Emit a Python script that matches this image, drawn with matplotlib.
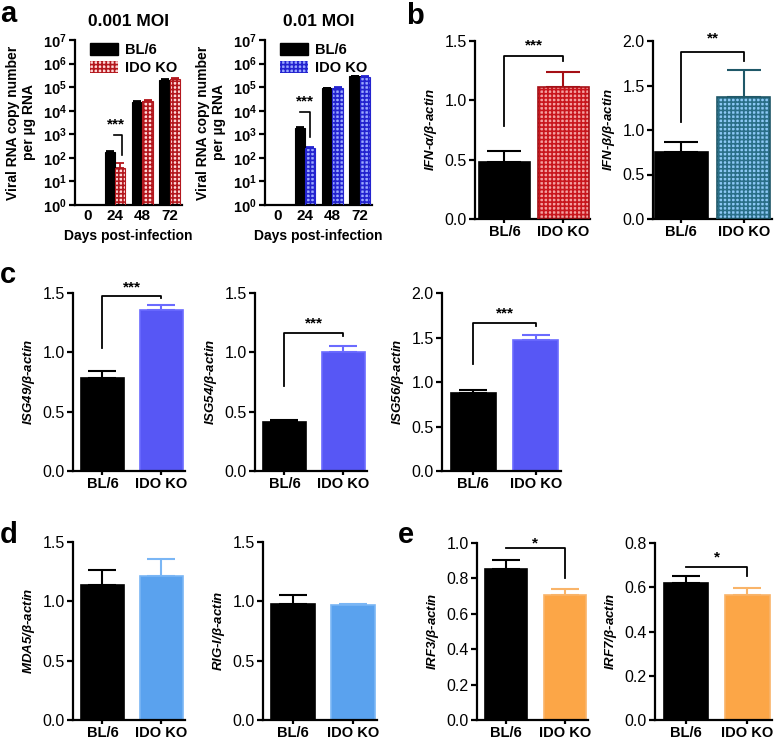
import numpy as np
import matplotlib
matplotlib.use("Agg")
import matplotlib.pyplot as plt
import matplotlib.patches as mpatches
from matplotlib.ticker import FixedLocator

plt.rcParams['font.family'] = ['Liberation Sans', 'DejaVu Sans']
plt.rcParams['hatch.linewidth'] = 1.2
plt.rcParams['mathtext.fontset'] = 'custom'
plt.rcParams['mathtext.rm'] = 'Liberation Sans'
plt.rcParams['mathtext.bf'] = 'Liberation Sans:bold'
plt.rcParams['mathtext.it'] = 'Liberation Sans:italic:bold'

# ── data ──────────────────────────────────────────────────────────────────────
days = ["0", "24", "48", "72"]
groups = ["BL/6", "IDO KO"]

# panel a (viral RNA copies, log scale); day 0 = not detected
a1_bl6 = [np.nan, 180, 2.4e4, 2.0e5]
a1_bl6_err = [0, 15, 2e3, 1.5e4]
a1_ko = [np.nan, 36, 2.7e4, 2.3e5]
a1_ko_err = [0, 22, 2e3, 2.5e4]
a2_bl6 = [np.nan, 1.8e3, 9.0e4, 2.9e5]
a2_bl6_err = [0, 1.5e2, 5e3, 1e4]
a2_ko = [np.nan, 270, 9.2e4, 2.8e5]
a2_ko_err = [0, 25, 5e3, 2e4]

# panels b-e: (mean, upper error) for BL/6 and IDO KO
ifna = [0.48, 1.115]
ifna_err = [0.09, 0.125]
ifnb = [0.75, 1.37]
ifnb_err = [0.12, 0.30]
isg49 = [0.78, 1.355]
isg49_err = [0.06, 0.04]
isg54 = [0.41, 1.0]
isg54_err = [0.02, 0.055]
isg56 = [0.875, 1.475]
isg56_err = [0.04, 0.05]
mda5 = [1.14, 1.215]
mda5_err = [0.12, 0.145]
rigi = [0.975, 0.965]
rigi_err = [0.075, 0.015]
irf3 = [0.855, 0.705]
irf3_err = [0.048, 0.035]
irf7 = [0.62, 0.567]
irf7_err = [0.033, 0.03]

LW = 1.6


def style_axes(ax):
    for s in ("top", "right"):
        ax.spines[s].set_visible(False)
    for s in ("left", "bottom"):
        ax.spines[s].set_linewidth(LW)
    ax.tick_params(axis="both", direction="out", width=LW, length=4, labelsize=11.5, pad=2)
    ax.tick_params(axis="x", length=3, pad=1)


def fig_ax(l, t, r, b):
    W, H = 778, 740
    return fig.add_axes([l / W, 1 - b / H, (r - l) / W, (b - t) / H])


def bar_panel(ax, vals, errs, ylabel, ymax, step, ko_face, ko_edge, ko_hatch=None,
              hatch_col=None, width=0.72, xlim=(-0.5, 1.4)):
    x = np.arange(2)
    ax.bar(x[0], vals[0], width, color="black", edgecolor="black", lw=1.2, zorder=2)
    if ko_hatch:
        ax.bar(x[1], vals[1], width, color=ko_face, edgecolor=hatch_col, lw=0,
               hatch=ko_hatch, zorder=2)
        ax.bar(x[1], vals[1], width, color="none", edgecolor=ko_edge, lw=1.2, zorder=3)
    else:
        ax.bar(x[1], vals[1], width, color=ko_face, edgecolor=ko_edge, lw=1.2, zorder=2)
    ecols = ["black", ko_edge]
    for i in range(2):
        ax.errorbar(x[i], vals[i], yerr=[[0], [errs[i]]], fmt="none", ecolor=ecols[i],
                    elinewidth=1.5, capsize=width * 14, capthick=1.5, zorder=1)
    ax.set_xlim(*xlim)
    ax.set_ylim(0, ymax)
    ax.set_yticks(np.arange(0, ymax + step / 2, step))
    ax.yaxis.set_major_formatter(matplotlib.ticker.FormatStrFormatter("%.1f"))
    ax.set_xticks(x)
    ax.set_xticklabels(groups, fontweight="bold", fontsize=10.5)
    ax.set_ylabel(ylabel, fontsize=9.5, fontweight="bold", style="italic", labelpad=4)
    style_axes(ax)
    ax.tick_params(axis="x", labelsize=10.5)


def bracket(ax, x0, y0, x1, y1, ytop, label, ylab):
    ax.plot([x0, x0, x1, x1], [y0, ytop, ytop, y1], color="black", lw=1.3, zorder=4)
    ax.text((x0 + x1) / 2, ylab, label, ha="center", va="center", fontsize=11,
            fontweight="bold")


def log_panel(ax, bl6, bl6_err, ko, ko_err, face, hatch_col, title):
    x = np.arange(len(days))
    w = 0.38
    ax.set_yscale("log")
    ax.bar(x - w / 2, bl6, w, bottom=0, color="black", edgecolor="black", lw=0.8, zorder=2)
    ax.bar(x + w / 2, ko, w, bottom=0, color=face, edgecolor=hatch_col, lw=0,
           hatch="++++", zorder=2)
    ax.bar(x + w / 2, ko, w, bottom=0, color="none", edgecolor=hatch_col, lw=0.8, zorder=3)
    ax.errorbar(x - w / 2, bl6, yerr=[np.zeros(4), bl6_err], fmt="none", ecolor="black",
                elinewidth=1.3, capsize=3, capthick=1.3, zorder=1)
    ax.errorbar(x + w / 2, ko, yerr=[np.zeros(4), ko_err], fmt="none", ecolor=hatch_col,
                elinewidth=1.3, capsize=3, capthick=1.3, zorder=1)
    ax.set_xlim(-0.47, 3.45)
    ax.set_ylim(1, 1e7)
    ax.yaxis.set_major_locator(FixedLocator([10.0 ** k for k in range(8)]))
    ax.yaxis.set_minor_locator(FixedLocator([]))
    ax.set_yticklabels([r"$\mathbf{10^{%d}}$" % k for k in range(8)])
    ax.set_xticks(x)
    ax.set_xticklabels(days, fontweight="bold")
    ax.set_xlabel("Days post-infection", fontsize=10, fontweight="bold", labelpad=4)
    ax.set_ylabel("Viral RNA copy number\nper µg RNA", fontsize=10, fontweight="bold",
                  linespacing=1.15, labelpad=5)
    ax.set_title(title, fontsize=12.5, fontweight="bold", pad=10)
    style_axes(ax)
    ax.tick_params(axis="x", length=0, labelsize=11, pad=3)
    ax.tick_params(axis="y", labelsize=10.5)
    handles = [mpatches.Patch(facecolor="black", edgecolor="black", label="BL/6"),
               mpatches.Patch(facecolor=face, edgecolor=hatch_col, hatch="++++",
                              lw=0, label="IDO KO")]
    ax.legend(handles=handles, loc="upper left", bbox_to_anchor=(0.02, 1.06),
              frameon=False, handlelength=1.9, handleheight=0.9, handletextpad=0.5,
              labelspacing=0.25, prop={"weight": "bold", "size": 10.5})
    return ax


fig = plt.figure(figsize=(7.78, 7.4), dpi=100)

# ── panel a ───────────────────────────────────────────────────────────────────
ax = fig_ax(75, 40, 182, 205)
log_panel(ax, a1_bl6, a1_bl6_err, a1_ko, a1_ko_err, "#ffd8d8", "#b3171d", "0.001 MOI")
ax.plot([1 - 0.05, 1 + 0.24, 1 + 0.24], [930, 930, 130], color="black", lw=1.2)
ax.text(1.02, 2.6e3, "***", ha="center", va="center", fontsize=11, fontweight="bold")

ax = fig_ax(265, 40, 372, 205)
log_panel(ax, a2_bl6, a2_bl6_err, a2_ko, a2_ko_err, "#9aa8ff", "#2323cf", "0.01 MOI")
ax.plot([1 - 0.19, 1 + 0.19, 1 + 0.19], [9000, 9000, 800], color="black", lw=1.2)
ax.text(1.0, 2.5e4, "***", ha="center", va="center", fontsize=11, fontweight="bold")

# ── panel b ───────────────────────────────────────────────────────────────────
ax = fig_ax(475, 41, 590, 219)
bar_panel(ax, ifna, ifna_err, r"IFN-$\alpha$/$\beta$-actin", 1.5, 0.5,
          "#f4a0a0", "#a50f15", "++++", "#c8161d", width=0.85, xlim=(-0.5, 1.45))
bracket(ax, 0, 0.78, 1, 1.33, 1.375, "***", 1.46)

ax = fig_ax(653, 41, 772, 219)
bar_panel(ax, ifnb, ifnb_err, r"IFN-$\beta$/$\beta$-actin", 2.0, 0.5,
          "#8cc8f5", "#1f5868", "++++", "#2a6f88", width=0.85, xlim=(-0.45, 1.45))
bracket(ax, 0, 1.09, 1, 1.77, 1.88, "**", 2.03)

# ── panel c ───────────────────────────────────────────────────────────────────
ISG_FACE, ISG_EDGE = "#5757f5", "#6b6bff"
ax = fig_ax(73, 293, 185, 471)
bar_panel(ax, isg49, isg49_err, r"ISG49/$\beta$-actin", 1.5, 0.5, ISG_FACE, ISG_EDGE)
bracket(ax, 0, 1.04, 1, 1.455, 1.477, "***", 1.55)

ax = fig_ax(255, 293, 367, 471)
bar_panel(ax, isg54, isg54_err, r"ISG54/$\beta$-actin", 1.5, 0.5, ISG_FACE, ISG_EDGE)
bracket(ax, 0, 0.72, 1, 1.14, 1.16, "***", 1.24)

ax = fig_ax(442, 293, 561, 471)
bar_panel(ax, isg56, isg56_err, r"ISG56/$\beta$-actin", 2.0, 0.5, ISG_FACE, ISG_EDGE)
bracket(ax, 0, 1.2, 1, 1.63, 1.66, "***", 1.77)

# ── panel d ───────────────────────────────────────────────────────────────────
D_FACE, D_EDGE = "#5aa2ee", "#7ab6f5"
ax = fig_ax(73, 542, 185, 720)
bar_panel(ax, mda5, mda5_err, r"MDA5/$\beta$-actin", 1.5, 0.5, D_FACE, D_EDGE)

ax = fig_ax(263, 542, 377, 720)
bar_panel(ax, rigi, rigi_err, r"RIG-I/$\beta$-actin", 1.5, 0.5, D_FACE, D_EDGE)

# ── panel e ───────────────────────────────────────────────────────────────────
E_FACE, E_EDGE = "#fca647", "#f9b469"
ax = fig_ax(477, 543, 588, 720)
bar_panel(ax, irf3, irf3_err, r"IRF3/$\beta$-actin", 1.0, 0.2, E_FACE, E_EDGE)
bracket(ax, 0, 0.97, 1, 0.80, 0.97, "*", 1.0)

ax = fig_ax(655, 543, 772, 720)
bar_panel(ax, irf7, irf7_err, r"IRF7/$\beta$-actin", 0.8, 0.2, E_FACE, E_EDGE)
bracket(ax, 0, 0.69, 1, 0.65, 0.69, "*", 0.735)

# ── panel letters ─────────────────────────────────────────────────────────────
for lbl, px, py in [("a", 0, 14), ("b", 406, 16), ("c", 0, 275), ("d", 0, 535),
                    ("e", 398, 535)]:
    fig.text(px / 778, 1 - py / 740, lbl, fontsize=21, fontweight="bold",
             ha="left", va="center")

fig.savefig("out.png", dpi=100)
